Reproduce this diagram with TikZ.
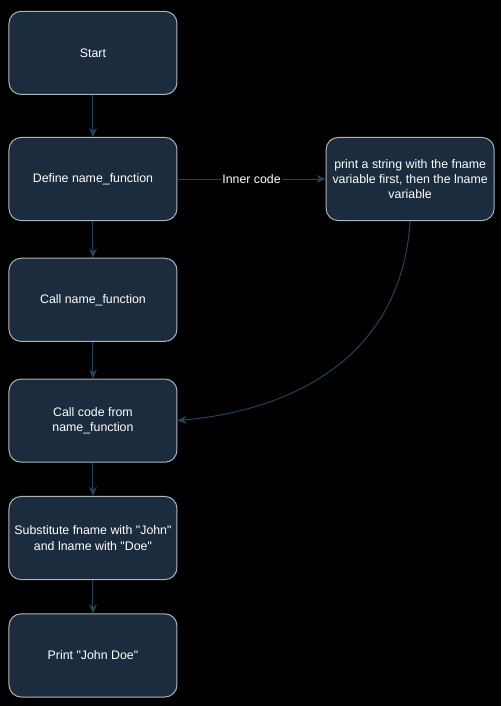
\documentclass[tikz,border=0pt]{standalone}
\usepackage{fontspec}
\setmainfont{Liberation Sans}
\usetikzlibrary{arrows.meta, positioning, calc}
\definecolor{boxfill}{RGB}{27,44,62}
\definecolor{boxline}{RGB}{176,180,186}
\definecolor{linkblue}{RGB}{35,68,93}

\begin{document}
\begin{tikzpicture}[
  node distance=0.97cm and 3.92cm,
  flowbox/.style={rectangle, draw=boxline, fill=boxfill, line width=0.75pt, minimum width=4.445cm, minimum height=2.2cm, align=center, rounded corners=0.32cm, text=white, font=\fontsize{9.3}{11.5}\selectfont},
  arrow/.style={-{Stealth[length=2.4mm, width=2.1mm]}, line width=0.75pt, color=linkblue}
]
  \fill[black] (0,0) rectangle (13.256,-18.68);
  \useasboundingbox (0,0) rectangle (13.256,-18.68);

  \node[flowbox] (start) at (2.46,-1.40) {Start};
  \node[flowbox, below=1.11cm of start] (define) {Define name\_function};
  \node[flowbox, below=of define] (call) {Call name\_function};
  \node[flowbox, below=of call] (callcode) {Call code from\\name\_function};
  \node[flowbox, below=0.88cm of callcode] (subst) {Substitute fname with \textquotedbl John\textquotedbl\\and lname with \textquotedbl Doe\textquotedbl};
  \node[flowbox, below=0.88cm of subst] (print) {Print \textquotedbl John Doe\textquotedbl};
  \node[flowbox, right=of define] (inner) {print a string with the fname\\variable first, then the lname\\variable};

  \draw[arrow] (start) -- (define);
  \draw[arrow] (define) -- node[fill=black, text=white, inner sep=1pt, font=\fontsize{9.3}{11.5}\selectfont] {Inner code} (inner);
  \draw[arrow] (define) -- (call);
  \draw[arrow] (call) -- (callcode);
  \draw[arrow] (callcode) -- (subst);
  \draw[arrow] (subst) -- (print);
  \draw[arrow] (inner.south) .. controls ($(inner.south)+(-0.24,-3.7)$) and ($(callcode.east)+(2.91,0.26)$) .. (callcode.east);

\end{tikzpicture}
\end{document}
